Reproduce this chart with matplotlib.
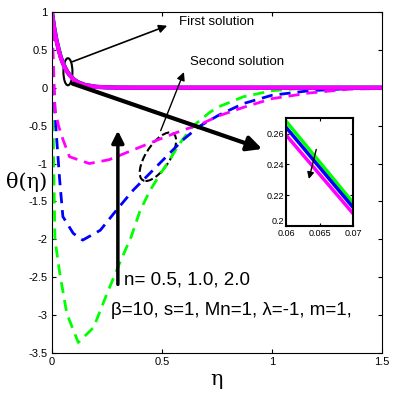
import matplotlib
matplotlib.use("Agg")
import matplotlib.pyplot as plt
from matplotlib.patches import Ellipse

plt.rcParams['font.family'] = ['Liberation Sans', 'DejaVu Sans']

# first solution (solid)
eta_1 = [0, 0.01, 0.02, 0.03, 0.04, 0.05, 0.06, 0.07, 0.08, 0.1, 0.12, 0.15, 0.2, 0.25, 0.3, 0.4, 1.5]
first_g = [1, 0.80, 0.64, 0.52, 0.41, 0.33, 0.268, 0.215, 0.172, 0.11, 0.071, 0.037, 0.012, 0.004, 0.001, 0, 0]
first_b = [1, 0.80, 0.64, 0.515, 0.405, 0.326, 0.264, 0.212, 0.170, 0.108, 0.070, 0.036, 0.012, 0.004, 0.001, 0, 0]
first_m = [1, 0.79, 0.63, 0.51, 0.40, 0.322, 0.259, 0.208, 0.167, 0.106, 0.068, 0.035, 0.011, 0.004, 0.001, 0, 0]

# second solution (dashed)
eta_g = [0, 0.003, 0.008, 0.014, 0.036, 0.068, 0.12, 0.19, 0.25, 0.31, 0.36, 0.40, 0.445, 0.49,
         0.536, 0.58, 0.64, 0.72, 0.76, 0.87, 1.0, 1.13, 1.3, 1.5]
second_g = [1, 0.2, -1.0, -2.0, -2.45, -2.98, -3.36, -3.16, -2.72, -2.3, -1.97, -1.63, -1.36, -1.15,
            -0.95, -0.74, -0.51, -0.32, -0.25, -0.12, -0.04, -0.01, 0, 0]
eta_b = [0, 0.005, 0.02, 0.035, 0.05, 0.097, 0.14, 0.22, 0.295, 0.37, 0.445, 0.52, 0.595, 0.67,
         0.76, 0.87, 1.0, 1.17, 1.37, 1.5]
second_b = [1, 0.2, -0.6, -1.2, -1.7, -1.92, -2.01, -1.88, -1.61, -1.35, -1.13, -0.91, -0.69, -0.51,
            -0.36, -0.21, -0.1, -0.04, -0.01, 0]
eta_m = [0, 0.005, 0.014, 0.03, 0.05, 0.08, 0.17, 0.26, 0.37, 0.48, 0.595, 0.67, 0.76, 0.87,
         1.0, 1.17, 1.35, 1.5]
second_m = [1, 0.5, -0.29, -0.5, -0.68, -0.91, -1.0, -0.95, -0.82, -0.69, -0.56, -0.49, -0.37, -0.26,
            -0.145, -0.07, -0.02, -0.01]

yticks = [1, 0.5, 0, -0.5, -1, -1.5, -2, -2.5, -3, -3.5]
ylabels = ['1', '0.5', '0', '-0.5', '-1', '-1.5', '-2', '-2.5', '-3', '-3.5']
xticks = [0, 0.5, 1, 1.5]
xlabels = ['0', '0.5', '1', '1.5']

fig = plt.figure(figsize=(3.99, 3.95), dpi=100)
ax = fig.add_axes([0.130, 0.106, 0.827, 0.864])

cols = [(0, 1, 0), (0, 0, 1), (1, 0, 1)]
for e, y, c in zip([eta_g, eta_b, eta_m], [second_g, second_b, second_m], cols):
    ax.plot(e, y, '--', color=c, lw=2, dashes=(4, 2.5))
for y, c in zip([first_g, first_b, first_m], cols):
    ax.plot(eta_1, y, '-', color=c, lw=3)

ax.set_xlim(0, 1.5)
ax.set_ylim(-3.5, 1)
ax.set_xticks(xticks)
ax.set_xticklabels(xlabels)
ax.set_yticks(yticks)
ax.set_yticklabels(ylabels)
ax.tick_params(direction='in', top=True, right=True, labelsize=8, length=3, pad=3)
ax.set_xlabel('η', fontsize=15, family='DejaVu Serif', labelpad=2)
ax.set_ylabel('θ(η)', fontsize=15, family='DejaVu Serif', rotation=0, ha='center', va='center')
ax.yaxis.set_label_coords(-0.075, 0.5)

# annotations
ax.add_patch(Ellipse((0.073, 0.21), 0.041, 0.357, fill=False, lw=1.5, color='k'))
ax.annotate('', xy=(0.536, 0.83), xytext=(0.082, 0.33),
            arrowprops=dict(arrowstyle='-|>', color='k', lw=1.2, mutation_scale=12))
ax.text(0.58, 0.87, 'First solution', fontsize=9.5, va='center')
ax.add_patch(Ellipse((0.482, -0.91), 0.123, 0.65, angle=-10, fill=False, lw=1.5, ls='--', color='k'))
ax.annotate('', xy=(0.605, 0.24), xytext=(0.49, -0.6),
            arrowprops=dict(arrowstyle='-|>', color='k', lw=1, mutation_scale=12))
ax.text(0.627, 0.34, 'Second solution', fontsize=9.5, va='center')
ax.annotate('', xy=(0.968, -0.82), xytext=(0.082, 0.066),
            arrowprops=dict(arrowstyle='-|>', color='k', lw=3, mutation_scale=22))
ax.annotate('', xy=(0.30, -0.53), xytext=(0.30, -2.63),
            arrowprops=dict(arrowstyle='-|>', color='k', lw=2.5, mutation_scale=18))
ax.text(0.33, -2.54, 'n= 0.5, 1.0, 2.0', fontsize=13.5, va='center')
ax.text(0.27, -2.94, 'β=10, s=1, Mn=1, λ=-1, m=1,', fontsize=13.5, va='center')

# inset
ins = fig.add_axes([0.717, 0.428, 0.168, 0.273])
for y, c in zip([first_g, first_b, first_m], cols):
    ins.plot(eta_1, y, '-', color=c, lw=2.5)
ins.set_xlim(0.06, 0.07)
ins.set_ylim(0.2, 0.27)
ins.set_xticks([0.06, 0.065, 0.07])
ins.set_xticklabels(['0.06', '0.065', '0.07'])
ins.set_yticks([0.2, 0.22, 0.24, 0.26])
ins.set_yticklabels(['0.2', '0.22', '0.24', '0.26'])
ins.tick_params(direction='in', top=True, right=True, labelsize=6.5, length=2)
ins.tick_params(axis='x', pad=2)
ins.tick_params(axis='y', pad=1.5)
ins.get_yticklabels()[0].set_va('bottom')
for s in ins.spines.values():
    s.set_linewidth(1.5)
ins.annotate('', xy=(0.0633, 0.2287), xytext=(0.0646, 0.2514),
             arrowprops=dict(arrowstyle='-|>', color='k', lw=1, mutation_scale=10))

fig.savefig('out.png', dpi=100)
